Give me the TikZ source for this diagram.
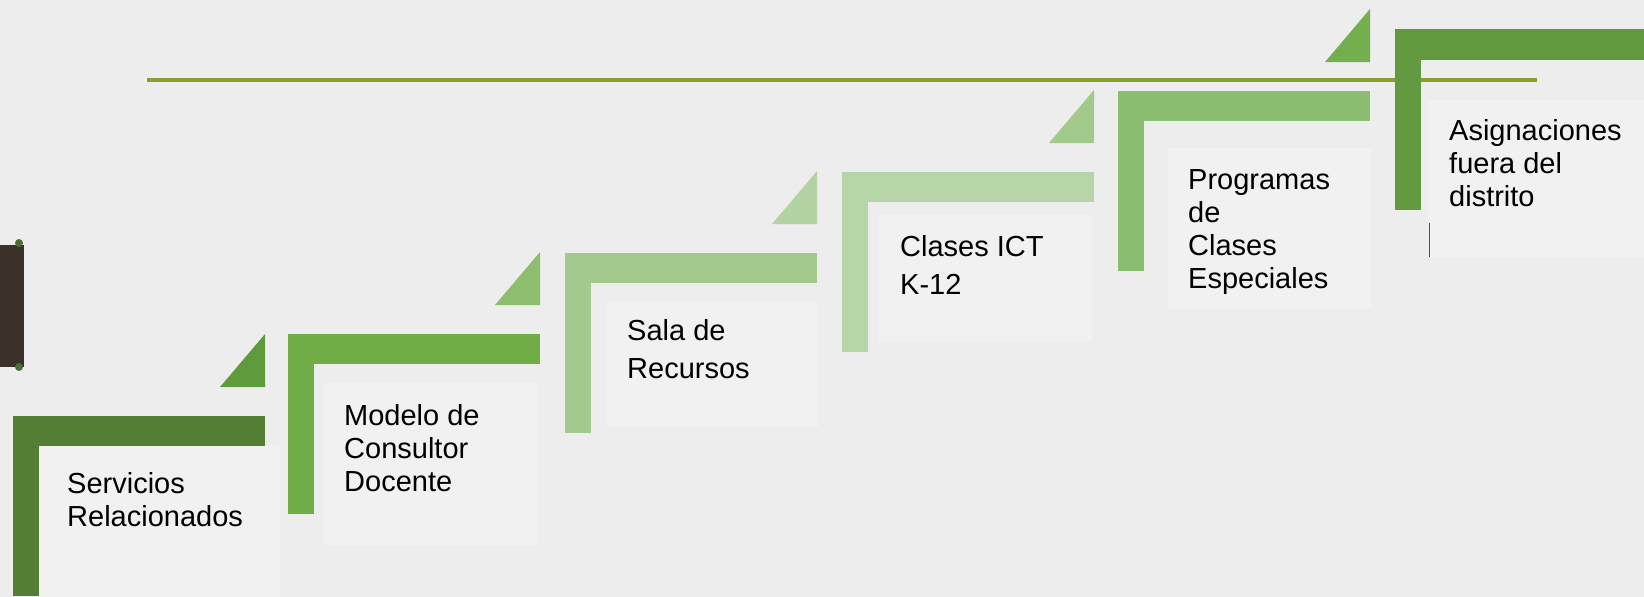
\documentclass[tikz,border=0pt]{standalone}
\usepackage{fontspec}
\setmainfont{Liberation Sans}
\definecolor{paper}{HTML}{EDEDED}
\definecolor{cardfill}{HTML}{F1F1F1}
\definecolor{rule}{HTML}{86A032}
\definecolor{bara}{HTML}{537E34}
\definecolor{tria}{HTML}{5F9B3C}
\definecolor{barb}{HTML}{70AD47}
\definecolor{trib}{HTML}{8DBE6E}
\definecolor{barc}{HTML}{A3C98F}
\definecolor{tric}{HTML}{B3D4A2}
\definecolor{bard}{HTML}{B7D6A8}
\definecolor{trid}{HTML}{A2CA8D}
\definecolor{bare}{HTML}{8BBD71}
\definecolor{trie}{HTML}{74AF4E}
\definecolor{barf}{HTML}{63993F}
\definecolor{binder}{HTML}{3B3128}
\definecolor{bindertip}{HTML}{4A6E35}

\begin{document}
\begin{tikzpicture}[
  x=1pt, y=-1pt,
  lbl/.style={font=\fontsize{29}{33}\selectfont, text=black, align=left, anchor=north west, inner sep=0pt},
  lblwide/.style={lbl, font=\fontsize{29}{38}\selectfont},
  card/.style={fill=cardfill}
]
\useasboundingbox (0,0) rectangle (1644,597);
\clip (0,0) rectangle (1644,597);
\fill[paper] (0,0) rectangle (1644,597);

% ---------- Fondos de texto ----------
\fill[card] (37,446) rectangle (280,597);
\fill[card] (323,383) rectangle (537,545);
\fill[card] (607,302) rectangle (818,427);
\fill[card] (878,215) rectangle (1092,342);
\fill[card] (1168,148) rectangle (1371,309);
\fill[card] (1428,100) rectangle (1644,257);
\draw[black!70, line width=1pt] (1429,223) -- (1429,257);

% ---------- Linea superior ----------
\draw[rule, line width=3.5pt] (147,80) -- (1537,80);

% ---------- Carpeta ----------
\fill[binder] (0,245) rectangle (24,367);
\fill[bindertip] (19,243) circle (4pt);
\fill[bindertip] (19,367) circle (4pt);

% ---------- Escalones ----------
\foreach \x/\y/\bar/\tri in {13/416/bara/tria, 288/334/barb/trib, 565/253/barc/tric, 842/172/bard/trid, 1118/91/bare/trie} {
  \fill[\bar] (\x,\y) rectangle (\x+252,\y+30);
  \fill[\bar] (\x,\y) rectangle (\x+26,\y+180);
  \fill[\tri] (\x+207,\y-29) -- (\x+252,\y-29) -- (\x+252,\y-82) -- cycle;
}
\fill[barf] (1395,29) rectangle (1660,60);
\fill[barf] (1395,29) rectangle (1421,210);

% ---------- Textos ----------
\node[lbl] (servicios) at (67,472) {Servicios\\Relacionados};
\node[lbl] (modelo) at (344,404) {Modelo de\\Consultor\\Docente};
\node[lblwide] (sala) at (627,319) {Sala de\\Recursos};
\node[lblwide] (clases) at (900,235) {Clases ICT\\K-12};
\node[lbl] (programas) at (1188,169) {Programas\\de\\Clases\\Especiales};
\node[lbl] (asignaciones) at (1449,119) {Asignaciones\\fuera del\\distrito};

\end{tikzpicture}
\end{document}
